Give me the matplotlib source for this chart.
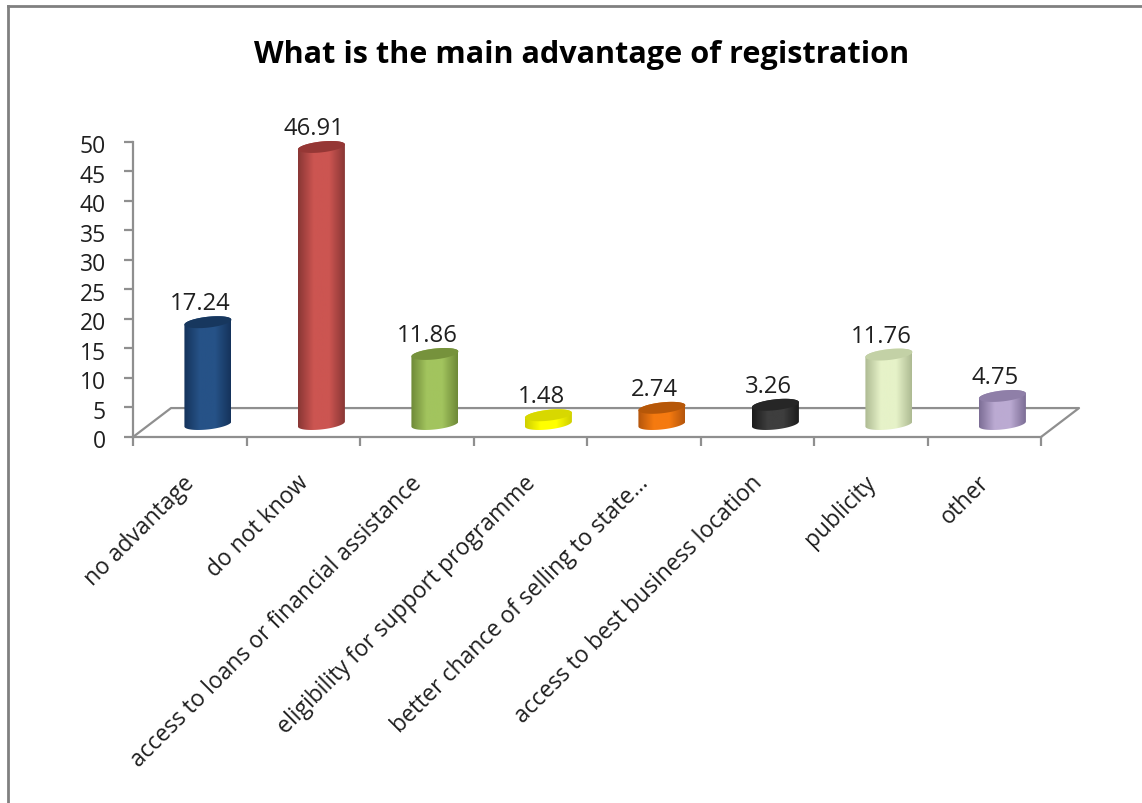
import numpy as np
import matplotlib
matplotlib.use("Agg")
import matplotlib.pyplot as plt
from matplotlib.colors import LinearSegmentedColormap
from matplotlib.lines import Line2D
from matplotlib.patches import PathPatch
from matplotlib.path import Path as MplPath
from matplotlib.transforms import ScaledTranslation

# Chart values.
CATEGORIES = [
    "no advantage",
    "do not know",
    "access to loans or financial assistance",
    "eligibility for support programme",
    "better chance of selling to state...",
    "access to best business location",
    "publicity",
    "other",
]
VALUES = [17.24, 46.91, 11.86, 1.48, 2.74, 3.26, 11.76, 4.75]
VALUE_LABELS = ["17.24", "46.91", "11.86", "1.48", "2.74", "3.26", "11.76", "4.75"]
Y_TICKS = [0, 5, 10, 15, 20, 25, 30, 35, 40, 45, 50]

# Cylinder colours: side edge, side centre, top cap.
EDGE_COLORS = ["#15335c", "#8a3735", "#6f8a38", "#cfcf00", "#b5560c", "#1c1c1c", "#aebb93", "#7d6e96"]
MID_COLORS = ["#265287", "#cc5551", "#a2c45e", "#ffff00", "#f57a10", "#3e3e3e", "#e6f2c8", "#bbaad2"]
TOP_COLORS = ["#17375e", "#953735", "#76923c", "#d8d800", "#b65708", "#262626", "#c3d1a6", "#8f7fa8"]

GREY = "#8f8f8f"
TEXT = "#1f1f1f"
W, H = 1142, 804

# 3D look: floor depth and cylinder shape, in axis units.
DEPTH_X = 0.335
DEPTH_Y = 4.9
BAR_SHIFT = 0.16
BAR_BASE = 2.2
RX = 0.207
RY = 0.92
TILT = 0.42

plt.rcParams["font.family"] = ["Open Sans", "DejaVu Sans"]

fig = plt.figure(figsize=(W / 100, H / 100), dpi=100, facecolor="white")
ax = fig.add_axes([133 / W, 1 - 438 / H, (1041 - 133) / W, (438 - 142.7) / H])
ax.set_facecolor("none")

# Outer chart frame, cut by the image on the right and bottom.
fig.add_artist(Line2D([8 / W, 8 / W], [0, 1 - 7 / H], color="#808080", lw=2))
fig.add_artist(Line2D([8 / W, 1], [1 - 7 / H, 1 - 7 / H], color="#808080", lw=2))

n = len(VALUES)

# Floor of the 3D plot.
ax.plot([0, DEPTH_X, n + DEPTH_X, n], [0, DEPTH_Y, DEPTH_Y, 0], color=GREY, lw=1.6, clip_on=False, zorder=1)


def ellipse_points(cx, cy, t):
    return cx + RX * np.cos(t), cy + RY * np.sin(t) + TILT * np.cos(t)


for i, value in enumerate(VALUES):
    cx = i + 0.5 + BAR_SHIFT
    top = BAR_BASE + value

    t_low = np.linspace(np.pi, 2 * np.pi, 40)
    t_up = np.linspace(0, np.pi, 40)
    bx, by = ellipse_points(cx, BAR_BASE, t_low)
    tx, ty = ellipse_points(cx, top, t_up)
    outline = np.column_stack([np.r_[bx, tx], np.r_[by, ty]])
    patch = PathPatch(MplPath(np.vstack([outline, outline[0]]), closed=True), transform=ax.transData, fc="none", ec="none")
    ax.add_patch(patch)

    # Horizontal shading across the cylinder.
    cmap = LinearSegmentedColormap.from_list("side", [EDGE_COLORS[i], MID_COLORS[i], MID_COLORS[i], EDGE_COLORS[i]])
    im = ax.imshow(
        np.linspace(0, 1, 64).reshape(1, -1),
        cmap=cmap,
        aspect="auto",
        extent=(cx - RX, cx + RX, 0, top + RY + TILT + 0.5),
        zorder=2,
    )
    im.set_clip_path(patch)
    im.set_clip_box(None)

    t_all = np.linspace(0, 2 * np.pi, 80)
    cap_x, cap_y = ellipse_points(cx, top, t_all)
    ax.fill(cap_x, cap_y, color=TOP_COLORS[i], lw=0, clip_on=False, zorder=3)

    ax.text(cx - 0.065, value + 5.4, VALUE_LABELS[i], ha="center", va="center", fontsize=17.2, color=TEXT, zorder=4)

ax.set_xlim(0, n)
ax.set_ylim(0, 50)

for side in ["top", "right"]:
    ax.spines[side].set_visible(False)
for side in ["left", "bottom"]:
    ax.spines[side].set_color(GREY)
    ax.spines[side].set_linewidth(1.6)

ax.set_yticks(Y_TICKS)
ax.tick_params(axis="y", length=6.5, width=1.6, color=GREY, labelsize=16.5, labelcolor=TEXT, pad=13)
ax.set_xticks(np.arange(n + 1))
ax.set_xticklabels([])
ax.tick_params(axis="x", which="major", length=6.5, width=1.6, color=GREY)

# Category names sit on minor ticks, centred between the major ones.
ax.set_xticks(np.arange(n) + 0.5, minor=True)
ax.set_xticklabels(CATEGORIES, minor=True, rotation=45, ha="right", va="top", rotation_mode="anchor", fontsize=16.5, color=TEXT)
ax.tick_params(axis="x", which="minor", length=0, pad=24)

# Nudge tick text to where the reference has it.
for label in ax.get_xticklabels(minor=True):
    label.set_transform(label.get_transform() + ScaledTranslation(-7 / 100, 0, fig.dpi_scale_trans))
for label in ax.get_yticklabels():
    label.set_transform(label.get_transform() + ScaledTranslation(0, -1.5 / 100, fig.dpi_scale_trans))

fig.text(582 / W, 1 - 55 / H, "What is the main advantage of registration", ha="center", va="center", fontsize=22.1, fontweight="bold", color="black")

fig.savefig("out.png", dpi=100)
